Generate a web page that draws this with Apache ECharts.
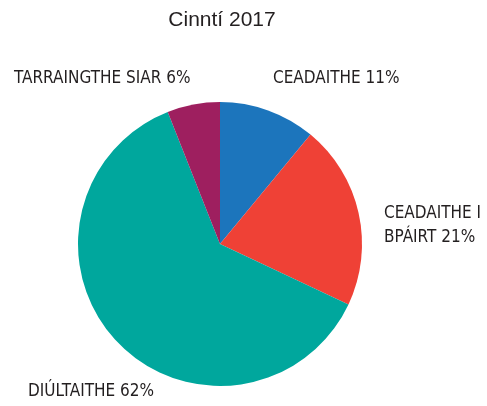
<!DOCTYPE html>
<html>
<head>
<meta charset="utf-8">
<script src="https://cdn.jsdelivr.net/npm/echarts@6/dist/echarts.min.js"></script>
<style>
  html, body { margin: 0; padding: 0; background: #fff; }
  #main { width: 487px; height: 406px; }
</style>
</head>
<body>
<div id="main"></div>
<script>
var names = ["CEADAITHE", "CEADAITHE I\nBPÁIRT", "DIÚLTAITHE", "TARRAINGTHE SIAR"]
var values = [11, 21, 62, 6]
var colors = ["#1c75bc", "#ef4136", "#00a79d", "#9e1f5f"]

// where each label sits (left edge, middle)
var labelPos = [[273, 79], [384, 226], [28, 392], [14, 79]]

var chartDom = document.getElementById("main")
var myChart = echarts.init(chartDom)
var option

option = {
  animation: false,
  title: {
    text: "Cinntí 2017",
    left: 217,
    textAlign: "center",
    top: 5,
    textStyle: {
      fontFamily: "Liberation Sans",
      fontSize: 21,
      fontWeight: "normal",
      color: "#231f20"
    }
  },
  series: [
    {
      type: "pie",
      center: [220, 244],
      radius: 142,
      startAngle: 90,
      clockwise: true,
      data: names.map(function (n, i) {
        return { name: n, value: values[i], itemStyle: { color: colors[i] } }
      }),
      label: {
        show: true,
        position: "outside",
        formatter: "{b} {d}%",
        fontFamily: "'DejaVu Sans Condensed', sans-serif",
        fontSize: 17,
        lineHeight: 24,
        overflow: "none",
        color: "#231f20"
      },
      labelLine: { show: false },
      labelLayout: function (params) {
        var p = labelPos[params.dataIndex]
        return { x: p[0], y: p[1], align: "left", verticalAlign: "middle" }
      },
      emphasis: { disabled: true }
    }
  ]
}

option && myChart.setOption(option)
</script>
</body>
</html>
